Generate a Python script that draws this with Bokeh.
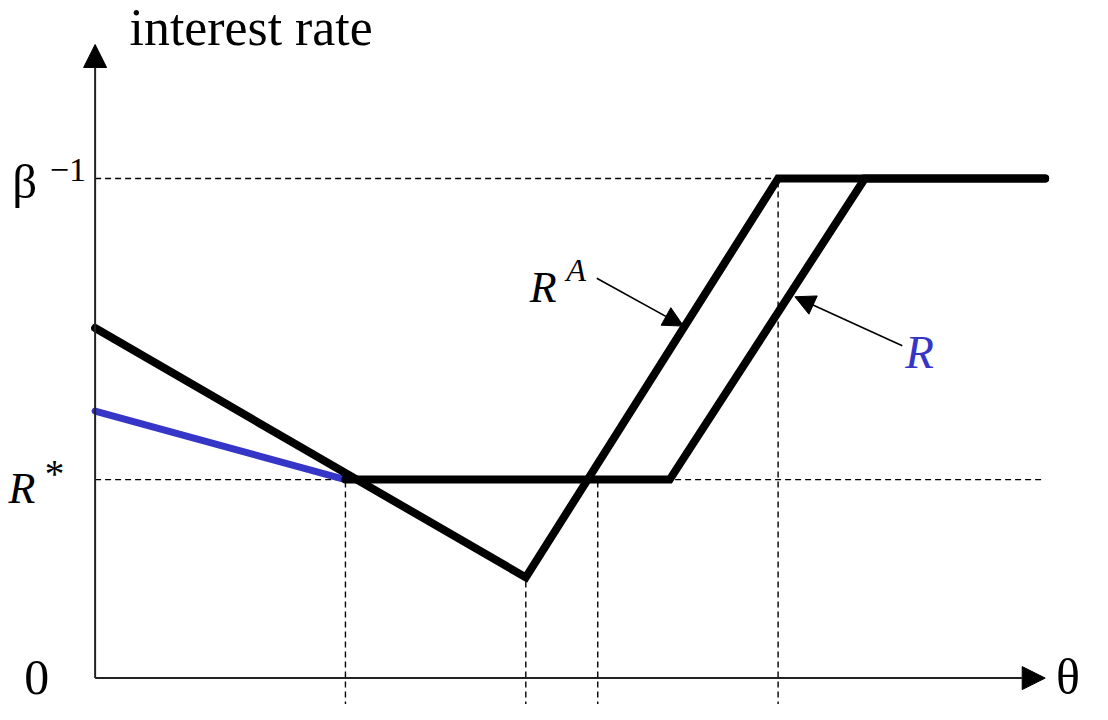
from bokeh.plotting import figure
from bokeh.models import Range1d, Arrow, NormalHead
from bokeh.core.properties import value
from bokeh.embed import file_html
from bokeh.resources import INLINE

# ---- data (model units) ----
theta_RA = [0.0, 4.37, 6.93, 9.64]
rate_RA = [3.58, 1.03, 5.11, 5.11]

theta_R = [2.54, 5.83, 7.81, 9.64]
rate_R = [2.03, 2.03, 5.11, 5.11]

theta_R_low = [0.0, 2.54]
rate_R_low = [2.73, 2.03]

beta_inv = 5.11
r_star = 2.03
theta_max = 9.64
rate_max = 6.48

v_theta = [2.54, 4.37, 5.10, 6.93]
v_top = [2.03, 1.03, 2.03, 5.11]
v_bottom = -0.3

BLUE = "#3535c8"
FONT = "Liberation Serif"
SCALE = 704 / 720.0
BASE_FIX = 0.36  # baseline correction, in em

p = figure(width=1092, height=704, output_backend="svg", toolbar_location=None,
           x_range=Range1d(-0.96, 10.12), y_range=Range1d(-0.27, 6.93),
           min_border=0, min_border_left=0, min_border_right=0,
           min_border_top=0, min_border_bottom=0)
p.axis.visible = False
p.grid.visible = False
p.outline_line_color = None
p.background_fill_color = "white"
p.border_fill_color = "white"

# dashed guide lines
p.segment(x0=[0, 0], y0=[beta_inv, r_star], x1=[6.93, theta_max], y1=[beta_inv, r_star],
          line_color="black", line_width=1.4, line_dash="6 4")
p.segment(x0=v_theta, y0=[v_bottom] * len(v_theta), x1=v_theta, y1=v_top,
          line_color="black", line_width=1.4, line_dash="6 4")

# axes with arrows
p.add_layout(Arrow(end=NormalHead(size=23, fill_color="black", line_color="black"),
                   x_start=0, y_start=0, x_end=0, y_end=rate_max,
                   line_width=2, line_color="#222222"))
p.add_layout(Arrow(end=NormalHead(size=23, fill_color="black", line_color="black"),
                   x_start=0, y_start=0, x_end=theta_max, y_end=0,
                   line_width=2, line_color="#222222"))

# curves
p.line(theta_R_low, rate_R_low, line_color=BLUE, line_width=7, line_cap="round")
p.line(theta_RA, rate_RA, line_color="black", line_width=8, line_cap="round", line_join="miter")
p.line(theta_R, rate_R, line_color="black", line_width=8, line_cap="round", line_join="miter")

# leader arrows
p.add_layout(Arrow(end=NormalHead(size=20, fill_color="black", line_color="black"),
                   x_start=5.09, y_start=4.09, x_end=5.97, y_end=3.60,
                   line_width=1.6, line_color="black"))
p.add_layout(Arrow(end=NormalHead(size=20, fill_color="black", line_color="black"),
                   x_start=8.19, y_start=3.40, x_end=7.10, y_end=3.90,
                   line_width=1.6, line_color="black"))

def txt(rx, ry, s, size, color="black", style="normal"):
    # rx, ry: left / baseline position in reference pixels
    x = (rx - 96) / 100.0
    y = (693 - ry) / 100.0 + BASE_FIX * size / 100.0
    p.text(x=[x], y=[y], text=[s], text_font=value(FONT),
           text_font_size=f"{size * SCALE:.1f}px",
           text_color=color, text_font_style=style, text_baseline="alphabetic",
           text_align="left")

txt(131, 47, "interest rate", 53)
txt(12, 203, "β", 50)
txt(50, 186, "−1", 35)
txt(8, 515, "R", 45, style="italic")
txt(45, 498, "*", 40)
txt(24, 711, "0", 51)
txt(1071, 711, "θ", 51)
txt(537, 310, "R", 45, style="italic")
txt(574, 288, "A", 33, style="italic")
txt(918, 377, "R", 48, color=BLUE, style="italic")

open("out.html", "w").write(file_html(p, INLINE))
